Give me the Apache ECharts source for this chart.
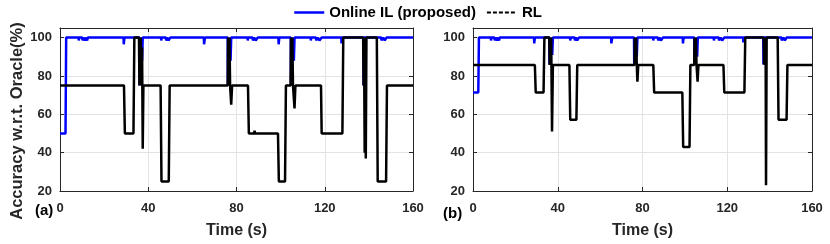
<!DOCTYPE html>
<html>
<head>
<meta charset="utf-8">
<script src="https://cdn.jsdelivr.net/npm/echarts@6/dist/echarts.min.js"></script>
<style>
html,body{margin:0;padding:0;background:#fff;}
#c{width:830px;height:244px;}
</style>
</head>
<body>
<div id="c"></div>
<script>
// ---- data ----
const xTicks = [0, 40, 80, 120, 160];
const yTicks = [20, 40, 60, 80, 100];
const seriesNames = ['Online IL (proposed)', 'RL'];
const panelLabels = ['(a)', '(b)'];
const yTitle = 'Accuracy w.r.t. Oracle(%)';
const xTitle = 'Time (s)';

// Panel (a): Online IL
const ilA = [
  [0,50],[2.5,50],[2.8,100],[8.4,100],[8.5,98.5],[8.7,100],[10.1,100],[10.2,98.5],[10.6,100],[11.2,98.5],[11.8,100],[12.3,98.5],[12.6,100],
  [28.8,100],[28.9,96.5],[29.2,100],[36,100],[36.1,75],[36.3,100],[36.6,91],[36.9,100],[37.2,88],[37.5,100],
  [45.8,100],[45.9,98.5],[46.1,100],[48,100],[48.1,98.5],[48.6,100],[49.2,98.5],[50,100],
  [65.2,100],[65.3,96.5],[65.7,100],[76,100],[76.1,75],[76.3,100],[76.6,90],[76.9,100],[77.3,88],[77.6,100],
  [85,100],[85.1,98.5],[85.3,100],[87.3,100],[87.4,98.5],[88,100],[88.7,98.5],[89.6,100],
  [99,100],[99.1,96.5],[99.4,100],[104.6,100],[104.7,75],[104.9,100],[105.3,90],[105.6,100],[106,88],[106.3,100],
  [113.6,100],[113.7,98.5],[113.9,100],[116,100],[116.1,98.5],[116.8,100],[117.6,98.5],[118.6,100],
  [127.5,100],[127.6,97],[127.8,100],[137.5,100],[137.6,75],[137.8,100],
  [145.6,100],[145.7,98.5],[146.5,100],[147.2,98.5],[148,100],[160,100]
];
// Panel (a): RL
const rlA = [
  [0,75],[8,75],[8.2,74],[8.5,75],[9.5,75],[9.7,74.5],[10,75],[11.5,75],[11.7,76],[12,75],
  [29,75],[29.4,50],[33.3,50],[33.7,100],[35.8,100],[36,75],[36.2,100],[36.4,76],[36.6,100],[36.8,75],[37.2,95],[37.5,42],[37.8,75],
  [45.6,75],[46,25],[49.3,25],[49.7,75],
  [76,75],[76.2,100],[76.5,80],[76.8,100],[77.1,75],[77.6,65],[78,75],
  [85.2,75],[85.6,50],[88,50],[88.2,51.5],[88.4,50],[88.8,50],[89,51],[89.2,50],
  [98.8,50],[99.2,25],[102,25],[102.4,75],
  [104.5,75],[104.7,100],[105,78],[105.3,100],[105.6,75],[106.3,63],[106.7,75],
  [113,75],[113.2,74],[113.4,75],[117,75],[117.2,76],[117.4,75],
  [118.3,75],[118.6,50],[128,50],[128.4,100],
  [137.4,100],[137.6,75],[137.8,100],[138.1,40],[138.4,100],[138.6,37],[138.9,100],
  [143.6,100],[144,25],[147.8,25],[148.2,75],[160,75]
];

// Panel (b): Online IL
const ilB = [
  [0,71.4],[2.5,71.4],[2.8,100],[8.4,100],[8.5,98.5],[8.7,100],[10.1,100],[10.2,98.5],[10.6,100],[11.2,98.5],[11.8,100],[12.3,98.5],[12.6,100],
  [28.8,100],[28.9,97],[29.2,100],[36,100],[36.1,86],[36.3,100],[36.6,92],[36.9,100],[37.4,91],[37.7,100],
  [45.8,100],[45.9,98.5],[46.1,100],[48,100],[48.1,98.5],[48.6,100],[49.2,98.5],[50,100],
  [65.2,100],[65.3,97],[65.7,100],[76,100],[76.1,86],[76.3,100],[76.6,91],[76.9,100],[77.3,90],[77.6,100],
  [85,100],[85.1,98.5],[85.3,100],[87.3,100],[87.4,98.5],[88,100],[88.7,98.5],[89.6,100],
  [99,100],[99.1,97],[99.4,100],[104.4,100],[104.5,86],[104.7,100],[105.1,90],[105.4,100],[105.8,90],[106.1,100],
  [113.6,100],[113.7,98.5],[113.9,100],[116,100],[116.1,98.5],[116.8,100],[117.6,98.5],[118.6,100],
  [127.5,100],[127.6,97.5],[127.8,100],[137,100],[137.1,86],[137.3,100],
  [145.6,100],[145.7,98.5],[146.5,100],[147.2,98.5],[148,100],[160,100]
];
// Panel (b): RL
const rlB = [
  [0,85.7],[8,85.7],[8.2,85],[8.5,85.7],[9.6,85.7],[9.8,86.2],[10,85.7],
  [29.2,85.7],[29.6,71.4],[33.3,71.4],[33.7,100],[36,100],[36.2,85.7],[36.4,100],[36.6,86],[36.9,100],[37.3,51],[37.7,85.7],
  [45.5,85.7],[45.9,57.1],[48.8,57.1],[49.2,85.7],
  [76.2,85.7],[76.4,100],[76.7,86],[77,100],[77.3,85.7],[77.6,77],[78,85.7],
  [85.1,85.7],[85.5,71.4],[98.8,71.4],[99.2,42.9],[102.2,42.9],[102.6,85.7],
  [104.4,85.7],[104.6,100],[104.9,86],[105.2,100],[105.5,85.7],[106,77],[106.4,85.7],
  [118.2,85.7],[118.6,71.4],[128.1,71.4],[128.5,100],
  [137.2,100],[137.4,86],[137.6,100],[137.8,85.7],[138.1,100],[138.3,23],[138.6,100],
  [143.8,100],[144.2,57.1],[148,57.1],[148.4,85.7],[160,85.7]
];

// ---- chart ----
const FONT = '"Liberation Sans", Arial, sans-serif';
const TXT = '#262626';
const chart = echarts.init(document.getElementById('c'), null, {renderer: 'canvas'});

const grids = [
  {left: 60, top: 28, width: 353, height: 165},
  {left: 473, top: 28, width: 339, height: 168}
];

function xAx(gi, top) {
  return {
    type: 'value', gridIndex: gi, min: xTicks[0], max: xTicks[xTicks.length-1], interval: 40,
    position: top ? 'top' : 'bottom',
    name: top ? '' : xTitle, nameLocation: 'middle', nameGap: 32,
    nameTextStyle: {fontFamily: FONT, fontWeight: 'bold', fontSize: 16, color: TXT},
    axisLine: {show: true, onZero: false, lineStyle: {color: TXT, width: 1}},
    axisTick: {show: true, inside: true, length: 4, lineStyle: {color: TXT}},
    axisLabel: {show: !top, margin: 11, fontFamily: FONT, fontWeight: 'bold', fontSize: 13, color: TXT},
    splitLine: {show: !top, lineStyle: {color: '#e3e3e3', width: 1}}
  };
}
function yAx(gi, right) {
  return {
    type: 'value', gridIndex: gi, min: 20, max: 105, interval: 20,
    position: right ? 'right' : 'left',
    axisLine: {show: true, onZero: false, lineStyle: {color: TXT, width: 1}},
    axisTick: {show: true, inside: true, length: 4, lineStyle: {color: TXT}},
    axisLabel: {show: !right, margin: 8, fontFamily: FONT, fontWeight: 'bold', fontSize: 13, color: TXT,
      formatter: v => (yTicks.indexOf(v) >= 0 ? String(v) : '')},
    splitLine: {show: !right, lineStyle: {color: '#e3e3e3', width: 1}}
  };
}

const option = {
  animation: false,
  backgroundColor: '#fff',
  grid: grids,
  legend: {
    show: true, orient: 'horizontal', left: 293, top: 5, padding: 0,
    itemWidth: 30, itemHeight: 14, itemGap: 10,
    textStyle: {fontFamily: FONT, fontWeight: 'bold', fontSize: 15, color: '#000'},
    data: [
      {name: seriesNames[0], itemStyle: {opacity: 0}, lineStyle: {color: '#0000ff', width: 2.5}},
      {name: seriesNames[1], itemStyle: {opacity: 0}, lineStyle: {color: '#000', width: 2, type: [4, 2]}}
    ]
  },
  xAxis: [xAx(0, false), xAx(1, false), xAx(0, true), xAx(1, true)],
  yAxis: [yAx(0, false), yAx(1, false), yAx(0, true), yAx(1, true)],
  graphic: [
    {type: 'text', left: 35, top: 203, style: {text: panelLabels[0], font: 'bold 15px ' + FONT, fill: '#000'}},
    {type: 'text', left: 443, top: 206, style: {text: panelLabels[1], font: 'bold 15px ' + FONT, fill: '#000'}},
    {type: 'text', x: 17, y: 121, rotation: Math.PI / 2,
      style: {text: yTitle, font: 'bold 16.5px ' + FONT, fill: TXT, align: 'center', verticalAlign: 'middle'}}
  ],
  series: [
    {name: seriesNames[0], type: 'line', xAxisIndex: 0, yAxisIndex: 0, data: ilA, symbol: 'none',
      lineStyle: {color: '#0000ff', width: 2.5}, itemStyle: {color: '#0000ff'}},
    {name: seriesNames[1], type: 'line', xAxisIndex: 0, yAxisIndex: 0, data: rlA, symbol: 'none',
      lineStyle: {color: '#000', width: 2.5}, itemStyle: {color: '#000'}},
    {name: seriesNames[0], type: 'line', xAxisIndex: 1, yAxisIndex: 1, data: ilB, symbol: 'none',
      lineStyle: {color: '#0000ff', width: 2.5}, itemStyle: {color: '#0000ff'}},
    {name: seriesNames[1], type: 'line', xAxisIndex: 1, yAxisIndex: 1, data: rlB, symbol: 'none',
      lineStyle: {color: '#000', width: 2.5}, itemStyle: {color: '#000'}}
  ]
};
chart.setOption(option);
</script>
</body>
</html>
